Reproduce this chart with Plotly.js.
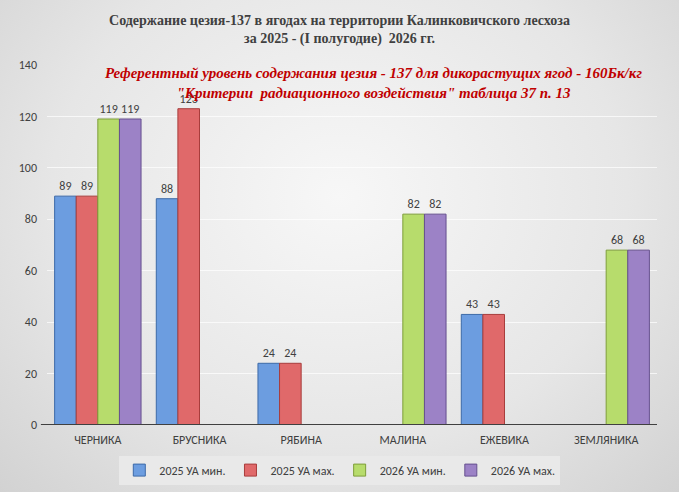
<!DOCTYPE html>
<html><head><meta charset="utf-8">
<script src="https://cdn.plot.ly/plotly-3.0.1.min.js"></script>
<style>
html,body{margin:0;padding:0;}
#chart{width:679px;height:492px;background:radial-gradient(ellipse at 50% 40%, #f7f7f7 0%, #e6e6e6 60%, #d2d2d2 100%);}
</style></head>
<body><div id="chart"></div>
<script>
const categories = ["ЧЕРНИКА","БРУСНИКА","РЯБИНА","МАЛИНА","ЕЖЕВИКА","ЗЕМЛЯНИКА"];
const seriesNames = ["2025 УА мин.","2025 УА мах.","2026 УА мин.","2026 УА мах."];
const v2025min = [89, 88, 24, null, 43, null];
const v2025max = [89, 123, 24, null, 43, null];
const v2026min = [119, null, null, 82, null, 68];
const v2026max = [119, null, null, 82, null, 68];
const yTicks = [0,20,40,60,80,100,120,140];

const fills = ["#6c9de0","#e0696a","#b7dc6c","#9c82c6"];
const edges = ["#3d6aa8","#a83d3c","#7e9e3a","#66508f"];
const vals = [v2025min, v2025max, v2026min, v2026max];

const traces = vals.map((v,i)=>({
  type:"bar", x:categories, y:v, name:seriesNames[i],
  marker:{color:fills[i], line:{color:edges[i], width:1}},
  text:v.map(d=>d==null?"":String(d)), textposition:"outside",
  textfont:{family:"Carlito, 'Liberation Sans', Arial, sans-serif", size:12, color:"#404040"},
  cliponaxis:false, hoverinfo:"skip"
}));

const layout = {
  width:679, height:492,
  paper_bgcolor:"rgba(0,0,0,0)", plot_bgcolor:"rgba(0,0,0,0)",
  margin:{l:47, r:22, t:65, b:67, autoexpand:false},
  barmode:"group", bargap:0.15, bargroupgap:0,
  font:{family:"Carlito, 'Liberation Sans', Arial, sans-serif", color:"#404040", size:11},
  title:{text:"Содержание цезия-137 в ягодах на территории Калинковичского лесхоза<br>за 2025 - (I полугодие)  2026 гг.",
    font:{family:"'Liberation Serif', 'Times New Roman', serif", size:14, color:"#404040", weight:"bold"},
    x:0.5, xref:"container", xanchor:"center", y:0.95, yref:"container", yanchor:"top"},
  xaxis:{type:"category", showgrid:false, zeroline:false, showline:false, ticks:"",
    tickfont:{size:12, color:"#404040"}, ticklabelstandoff:6},
  yaxis:{range:[0,140], tickvals:yTicks, showgrid:true, gridcolor:"rgba(255,255,255,0.7)", gridwidth:1,
    zeroline:false, showline:false, ticks:"", tickfont:{size:12, color:"#404040"}, ticklabelstandoff:9},
  showlegend:true,
  legend:{orientation:"h", x:0.48, xanchor:"center", y:-0.085, yanchor:"top",
    bgcolor:"#e9e9e9", font:{size:12, color:"#404040"}, itemwidth:30, traceorder:"normal"},
  shapes:[{type:"line", xref:"paper", yref:"y", x0:-0.01, x1:1.0, y0:0, y1:0, line:{color:"#404040", width:2}}],
  annotations:[{
    xref:"paper", yref:"paper", x:0.535, y:1.005, xanchor:"center", yanchor:"top", showarrow:false,
    text:"<b><i>Референтный уровень содержания цезия - 137 для дикорастущих ягод - 160Бк/кг<br>\"Критерии  радиационного воздействия\" таблица 37 п. 13</i></b>",
    font:{family:"'Liberation Serif', 'Times New Roman', serif", size:15, color:"#c00000"}
  }]
};
Plotly.newPlot("chart", traces, layout, {displayModeBar:false, staticPlot:true});
</script></body></html>
